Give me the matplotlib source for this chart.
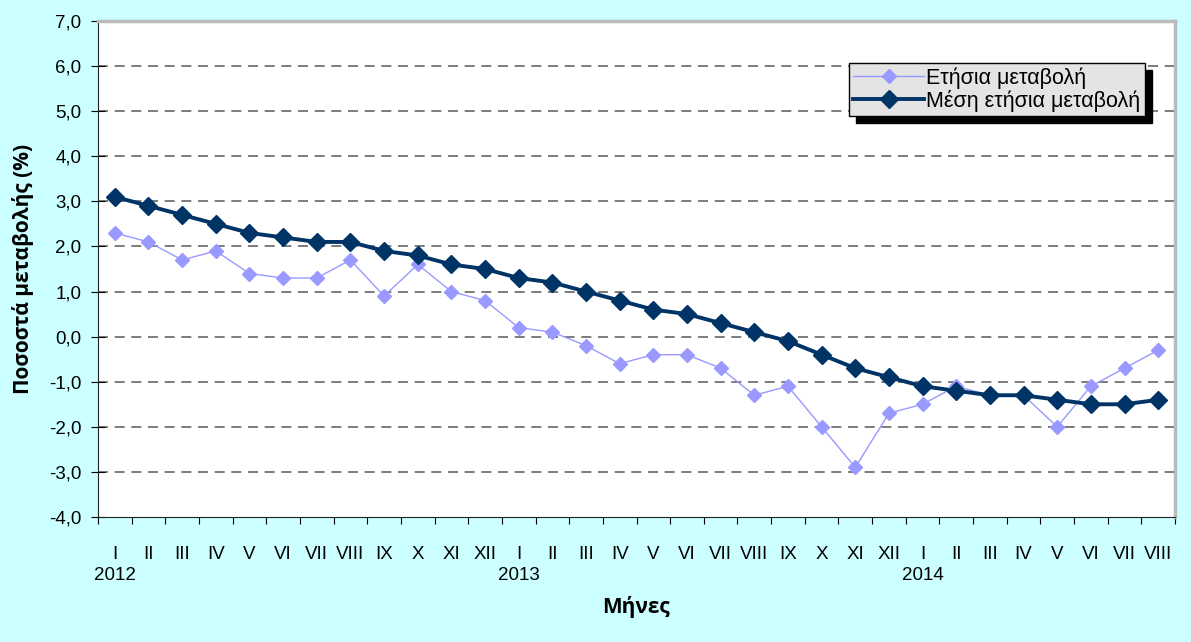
import matplotlib.pyplot as plt
import numpy as np

plt.rcParams['font.family'] = ['Liberation Sans', 'DejaVu Sans']

months = ['I', 'II', 'III', 'IV', 'V', 'VI', 'VII', 'VIII', 'IX', 'X', 'XI', 'XII',
          'I', 'II', 'III', 'IV', 'V', 'VI', 'VII', 'VIII', 'IX', 'X', 'XI', 'XII',
          'I', 'II', 'III', 'IV', 'V', 'VI', 'VII', 'VIII']
years = ['2012', '2013', '2014']
annual = [2.3, 2.1, 1.7, 1.9, 1.4, 1.3, 1.3, 1.7, 0.9, 1.6, 1.0, 0.8,
          0.2, 0.1, -0.2, -0.6, -0.4, -0.4, -0.7, -1.3, -1.1, -2.0, -2.9, -1.7,
          -1.5, -1.1, -1.3, -1.3, -2.0, -1.1, -0.7, -0.3]
mean_annual = [3.1, 2.9, 2.7, 2.5, 2.3, 2.2, 2.1, 2.1, 1.9, 1.8, 1.6, 1.5,
               1.3, 1.2, 1.0, 0.8, 0.6, 0.5, 0.3, 0.1, -0.1, -0.4, -0.7, -0.9,
               -1.1, -1.2, -1.3, -1.3, -1.4, -1.5, -1.5, -1.4]

W, H = 1191, 642
fig = plt.figure(figsize=(W / 100, H / 100), dpi=100, facecolor='#CCFFFF')
ax = fig.add_axes([98 / W, 1 - 517 / H, (1175 - 98) / W, (517 - 21) / H])
ax.set_facecolor('white')

x = np.arange(len(months))
ax.plot(x, annual, color='#9999FF', lw=1, marker='D', ms=7,
        label='Ετήσια μεταβολή', zorder=3)
ax.plot(x, mean_annual, color='#003366', lw=2.8, marker='D', ms=9,
        label='Μέση ετήσια μεταβολή', zorder=4)

ax.set_xlim(-0.5, len(months) - 0.5)
ax.set_ylim(-4, 7)
yt = np.arange(-4, 8, 1)
ax.set_yticks(yt)
ax.set_yticklabels([f'{v:.1f}'.replace('.', ',') for v in yt], fontsize=13.5)
for v in range(-3, 7):
    ax.axhline(v, color='#666666', lw=1.2, ls=(0, (6, 4)), zorder=1)

ax.set_xticks(np.arange(-0.5, len(months), 1))
ax.set_xticklabels([])
ax.set_xticks(x, minor=True)
ax.set_xticklabels(months, minor=True, fontsize=13.5)
ax.tick_params(axis='x', which='minor', length=0, pad=21)
ax.tick_params(axis='x', which='major', length=5, direction='out')
ax.tick_params(axis='y', length=10, direction='inout', pad=7)

for i, yr in enumerate(years):
    ax.text(x[i * 12], 1 - 575 / H, yr,
            transform=ax.get_xaxis_transform().__class__(ax.transData, fig.transFigure),
            ha='center', va='center', fontsize=13.5)

for s in ['top', 'right']:
    ax.spines[s].set_color('#BBBBBB')
    ax.spines[s].set_linewidth(2.5)
ax.spines['left'].set_color('#222222')
ax.spines['bottom'].set_color('#222222')

ax.set_ylabel('Ποσοστά μεταβολής (%)', fontsize=15, fontweight='bold',
              family=['Open Sans', 'DejaVu Sans'])
ax.yaxis.set_label_coords((34 - 98) / (1175 - 98), 0.5)
fig.text(636 / W, 1 - 607 / H, 'Μήνες', ha='center', va='center',
         fontsize=15, fontweight='bold', family=['Open Sans', 'DejaVu Sans'])

leg = ax.legend(loc='upper left', bbox_to_anchor=(849 / W, 1 - 63 / H),
                bbox_transform=fig.transFigure, fontsize=15.5, frameon=True,
                fancybox=False, shadow={'color': 'black', 'alpha': 1, 'ox': 5, 'oy': -5},
                borderpad=0.2, handlelength=3.3, handletextpad=0.1,
                labelspacing=0.05, borderaxespad=0)
leg.get_frame().set_facecolor('#E4E4E4')
leg.get_frame().set_edgecolor('black')
leg.get_frame().set_alpha(1)

fig.savefig('out.png', dpi=100, facecolor=fig.get_facecolor())
